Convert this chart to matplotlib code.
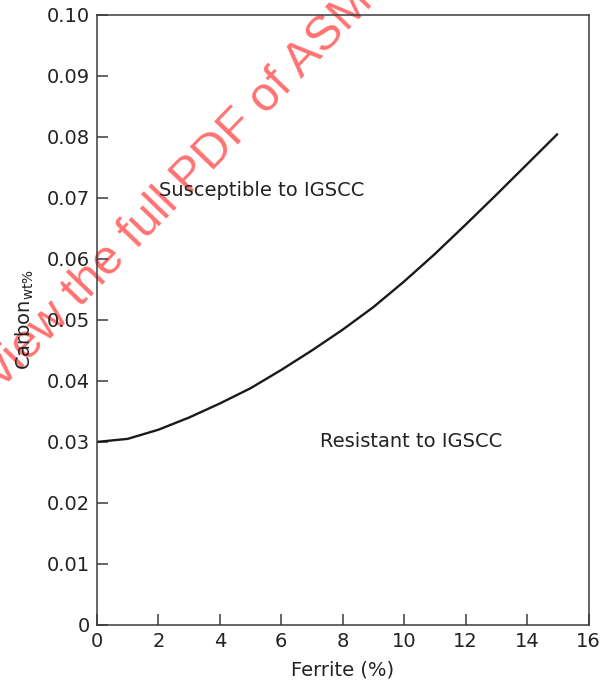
import matplotlib
matplotlib.use("Agg")
import matplotlib.pyplot as plt

plt.rcParams['font.family'] = ['DejaVu Sans']
plt.rcParams['mathtext.fontset'] = 'dejavusans'

# Data
ferrite = [0, 1, 2, 3, 4, 5, 6, 7, 8, 9, 10, 11, 12, 13, 14, 15]
carbon = [0.0300, 0.0305, 0.0320, 0.0340, 0.0363, 0.0388, 0.0418, 0.0450, 0.0484,
          0.0521, 0.0563, 0.0608, 0.0656, 0.0705, 0.0755, 0.0805]

xticks = [0, 2, 4, 6, 8, 10, 12, 14, 16]
yticks = [0, 0.01, 0.02, 0.03, 0.04, 0.05, 0.06, 0.07, 0.08, 0.09, 0.10]
yticklabels = ['0', '0.01', '0.02', '0.03', '0.04', '0.05', '0.06', '0.07', '0.08', '0.09', '0.10']

text_color = '#222222'
spine_color = '#3a3a3a'
fs = 14

fig = plt.figure(figsize=(6.0, 6.81), dpi=100)
ax = fig.add_axes([97/600, 1 - 625/681, (588.5 - 97)/600, (625 - 14.7)/681])

ax.plot(ferrite, carbon, color='#1a1a1a', lw=1.7, solid_capstyle='butt',
        solid_joinstyle='round', zorder=2)

ax.set_xlim(0, 16)
ax.set_ylim(0, 0.10)
ax.set_xticks(xticks)
ax.set_xticklabels([str(t) for t in xticks])
ax.set_yticks(yticks)
ax.set_yticklabels(yticklabels)

for s in ax.spines.values():
    s.set_color(spine_color)
    s.set_linewidth(1.1)

ax.tick_params(axis='both', direction='in', length=8, width=1.1, color=spine_color,
               labelsize=fs, labelcolor=text_color, pad=5)

ax.set_xlabel('Ferrite (%)', fontsize=fs, color=text_color, labelpad=7)
ax.set_ylabel(r'Carbon$_{\mathrm{wt\%}}$', fontsize=fs, color=text_color, labelpad=8)

ax.text(5.37, 0.0712, 'Susceptible to IGSCC', fontsize=fs, color=text_color,
        ha='center', va='center', zorder=3)
ax.text(10.23, 0.0300, 'Resistant to IGSCC', fontsize=fs, color=text_color,
        ha='center', va='center', zorder=3)

# watermark (drawn beneath the black texts)
ax.text(3/600, 1 - 388/681, 'view the full PDF of ASME', transform=fig.transFigure,
        fontsize=35, color='#ff7272', family='Liberation Sans',
        rotation=46, rotation_mode='anchor', ha='left', va='baseline',
        clip_on=False, zorder=1)

fig.savefig('out.png', dpi=100)
